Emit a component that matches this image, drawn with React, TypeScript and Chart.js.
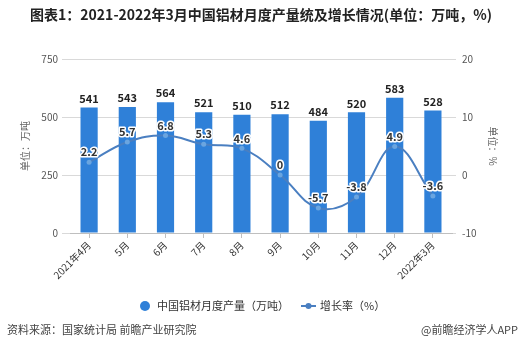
import React, { useEffect, useRef } from "react";
import { Chart, registerables } from "chart.js";

Chart.register(...registerables);

const categories = ["2021年4月", "5月", "6月", "7月", "8月", "9月", "10月", "11月", "12月", "2022年3月"];
const production = [541, 543, 564, 521, 510, 512, 484, 520, 583, 528];
const growth = [2.2, 5.7, 6.8, 5.3, 4.6, 0, -5.7, -3.8, 4.9, -3.6];
const leftTicks = [0, 250, 500, 750];
const rightTicks = [-10, 0, 10, 20];

const titleText = "图表1：2021-2022年3月中国铝材月度产量统及增长情况(单位：万吨，%)";
const sourceText = "资料来源：国家统计局 前瞻产业研究院";
const brandText = "@前瞻经济学人APP";
const barName = "中国铝材月度产量（万吨）";
const lineName = "增长率（%）";

const BAR_COLOR = "#2f80d8";
const LINE_COLOR = "#4a7fc1";
const FONT = "'Microsoft YaHei', 'Noto Sans CJK SC', sans-serif";

const decorPlugin = {
  id: "decor",
  afterDatasetsDraw(chart: any) {
    const ctx = chart.ctx as CanvasRenderingContext2D;
    ctx.save();
    const barMeta = chart.getDatasetMeta(0);
    ctx.font = `bold 11px ${FONT}`;
    ctx.fillStyle = "#222";
    ctx.textAlign = "center";
    ctx.textBaseline = "middle";
    barMeta.data.forEach((el: any, i: number) => {
      ctx.fillText(String(production[i]), el.x, el.y - 9);
    });
    const lineMeta = chart.getDatasetMeta(1);
    ctx.font = `bold 11px ${FONT}`;
    lineMeta.data.forEach((el: any, i: number) => {
      const t = String(growth[i]);
      ctx.lineWidth = 3;
      ctx.strokeStyle = "#ffffff";
      ctx.lineJoin = "round";
      ctx.strokeText(t, el.x, el.y - 10);
      ctx.fillStyle = "#333";
      ctx.fillText(t, el.x, el.y - 10);
    });
    ctx.restore();
  },
  afterDraw(chart: any) {
    const ctx = chart.ctx as CanvasRenderingContext2D;
    ctx.save();
    ctx.font = `bold 14px ${FONT}`;
    ctx.fillStyle = "#222";
    ctx.textAlign = "center";
    ctx.textBaseline = "middle";
    ctx.fillText(titleText, 261, 15);
    ctx.font = `11px ${FONT}`;
    ctx.textAlign = "left";
    ctx.fillStyle = BAR_COLOR;
    ctx.beginPath();
    ctx.arc(145, 306, 5, 0, Math.PI * 2);
    ctx.fill();
    ctx.fillStyle = "#333";
    ctx.fillText(barName, 157, 306);
    ctx.strokeStyle = LINE_COLOR;
    ctx.lineWidth = 2;
    ctx.beginPath();
    ctx.moveTo(301, 306);
    ctx.lineTo(316, 306);
    ctx.stroke();
    ctx.fillStyle = LINE_COLOR;
    ctx.beginPath();
    ctx.arc(308.5, 306, 3, 0, Math.PI * 2);
    ctx.fill();
    ctx.fillStyle = "#333";
    ctx.fillText(lineName, 320, 306);
    ctx.font = `11px ${FONT}`;
    ctx.fillStyle = "#444";
    ctx.fillText(sourceText, 7, 330);
    ctx.textAlign = "right";
    ctx.fillText(brandText, 518, 330);
    ctx.restore();
  },
};

export default function App() {
  const ref = useRef<HTMLCanvasElement | null>(null);
  useEffect(() => {
    document.body.style.margin = "0";
    const canvas = ref.current!;
    const chart = new Chart(canvas, {
      type: "bar",
      data: {
        labels: categories,
        datasets: [
          {
            type: "bar",
            label: barName,
            data: production,
            backgroundColor: BAR_COLOR,
            yAxisID: "y",
            barPercentage: 0.45,
            categoryPercentage: 1,
            order: 2,
          },
          {
            type: "line",
            label: lineName,
            data: growth,
            borderColor: LINE_COLOR,
            backgroundColor: "#6aa5e0",
            borderWidth: 2,
            pointRadius: 2.5,
            pointBorderWidth: 0,
            tension: 0.4,
            yAxisID: "y1",
            order: 1,
          } as any,
        ],
      },
      options: {
        responsive: false,
        animation: false,
        layout: { padding: { top: 59, left: 0, right: 0, bottom: 0 } },
        plugins: { legend: { display: false }, tooltip: { enabled: false } },
        scales: {
          x: {
            grid: { drawOnChartArea: false, offset: false, tickLength: 5, color: "#bfbfbf" },
            border: { color: "#bfbfbf" },
            ticks: {
              maxRotation: 45,
              minRotation: 45,
              color: "#333",
              font: { size: 10, family: FONT },
              padding: 1,
            },
            afterFit(s: any) {
              s.height = 121;
            },
          },
          y: {
            position: "left",
            min: 0,
            max: 750,
            afterBuildTicks(s: any) {
              s.ticks = leftTicks.map((v) => ({ value: v }));
            },
            grid: { color: "#d9d9d9", tickLength: 8 },
            border: { display: false },
            ticks: { color: "#555", font: { size: 10, family: FONT }, padding: 4 },
            title: {
              display: true,
              text: "单位：万吨",
              color: "#666",
              font: { size: 10, family: FONT },
              padding: { top: 19, bottom: 2 },
            },
            afterFit(s: any) {
              s.width = 70;
            },
          },
          y1: {
            position: "right",
            min: -10,
            max: 20,
            afterBuildTicks(s: any) {
              s.ticks = rightTicks.map((v) => ({ value: v }));
            },
            grid: { drawOnChartArea: false, tickLength: 4, color: "#d9d9d9" },
            border: { display: false },
            ticks: { color: "#555", font: { size: 10, family: FONT }, padding: 6 },
            title: {
              display: true,
              text: "单位：%",
              color: "#666",
              font: { size: 10, family: FONT },
              padding: { top: 21, bottom: 2 },
            },
            afterFit(s: any) {
              s.width = 68;
            },
          },
        },
      },
      plugins: [decorPlugin],
    });
    return () => chart.destroy();
  }, []);
  return <canvas ref={ref} width={520} height={354} style={{ display: "block" }} />;
}
